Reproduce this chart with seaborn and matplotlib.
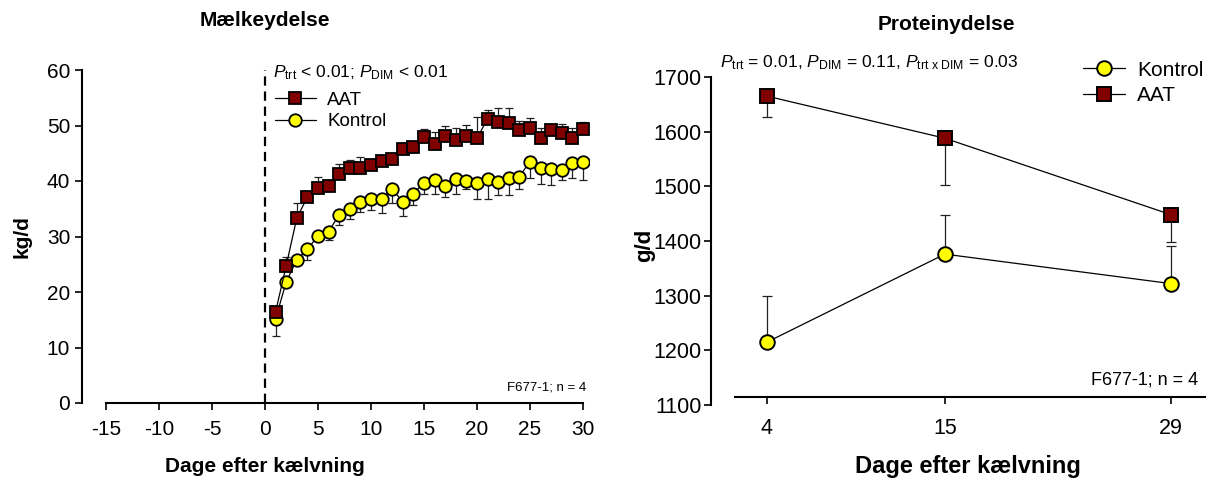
import numpy as np
import pandas as pd
import matplotlib
matplotlib.use("Agg")
import matplotlib.pyplot as plt
import seaborn as sns

# ---------------- data ----------------
days_left = list(range(1, 31))
aat_milk = [16.4, 24.7, 33.3, 37.1, 38.8, 39.1, 41.2, 42.4, 42.3, 42.8,
            43.6, 44.0, 45.7, 46.2, 48.0, 46.7, 48.1, 47.3, 48.1, 47.7,
            51.2, 50.7, 50.4, 49.2, 49.5, 47.7, 49.2, 48.6, 47.7, 49.3]
aat_milk_err = [0.5, 1.6, 2.7, 0.5, 1.9, 0.3, 1.8, 1.4, 2.0, 0.4,
                0.4, 0.4, 0.4, 0.4, 1.3, 2.1, 1.8, 2.2, 2.0, 3.9,
                1.6, 2.5, 2.8, 1.6, 1.9, 1.9, 0.9, 1.6, 1.8, 1.4]
kontrol_milk = [15.1, 21.8, 25.8, 27.7, 30.1, 30.9, 33.9, 34.9, 36.3, 36.8,
                36.8, 38.6, 36.2, 37.7, 39.7, 40.1, 39.1, 40.4, 40.0, 39.7,
                40.3, 39.8, 40.5, 40.8, 43.5, 42.3, 42.2, 42.0, 43.3, 43.4]
kontrol_milk_err = [3.0, 0.8, 0.8, 1.9, 1.0, 1.5, 1.9, 1.8, 1.8, 2.0,
                    2.6, 2.5, 2.5, 2.0, 2.0, 2.5, 2.0, 2.8, 1.5, 3.0,
                    3.5, 2.4, 3.1, 2.3, 2.9, 2.9, 2.9, 1.8, 2.8, 3.3]

days_right = [4, 15, 29]
aat_prot = [1665, 1588, 1448]
aat_prot_err = [38, 86, 50]
kontrol_prot = [1215, 1376, 1322]
kontrol_prot_err = [84, 71, 69]

left_xticks = [-15, -10, -5, 0, 5, 10, 15, 20, 25, 30]
left_yticks = [0, 10, 20, 30, 40, 50, 60]
right_yticks = [1100, 1200, 1300, 1400, 1500, 1600, 1700]

AAT_COLOR = "#800000"
KON_COLOR = "#FFFF00"

# ---------------- style ----------------
sns.set_style("ticks")
plt.rcParams["font.family"] = ["Liberation Sans", "DejaVu Sans"]
plt.rcParams["text.color"] = "black"
plt.rcParams["axes.labelcolor"] = "black"
plt.rcParams["mathtext.fontset"] = "custom"
plt.rcParams["mathtext.rm"] = "Liberation Sans"
plt.rcParams["mathtext.it"] = "Liberation Sans:italic"
plt.rcParams["mathtext.bf"] = "Liberation Sans:bold"

W, H = 1206, 479
fig = plt.figure(figsize=(W / 100, H / 100), dpi=100)


def P(x, y):
    return x / W, 1 - y / H


ax1 = fig.add_axes([82 / W, 1 - 403 / H, 507 / W, 333 / H])
ax2 = fig.add_axes([711 / W, 1 - 405 / H, 495 / W, 328 / H])

# ---------------- left panel ----------------
dfl = pd.DataFrame({"dag": days_left, "AAT": aat_milk, "Kontrol": kontrol_milk})

ax1.axvline(0, color="black", lw=1.6, ls=(0, (4.2, 2.6)), zorder=1)

ax1.errorbar(days_left, aat_milk, yerr=[np.zeros(30), aat_milk_err], fmt="none",
             ecolor="#222222", elinewidth=0.9, capsize=3, capthick=0.9, zorder=2)
ax1.errorbar(days_left, kontrol_milk, yerr=[kontrol_milk_err, np.zeros(30)], fmt="none",
             ecolor="#222222", elinewidth=0.9, capsize=3, capthick=0.9, zorder=2)

sns.lineplot(data=dfl, x="dag", y="AAT", ax=ax1, color="black", lw=0.9,
             marker="s", markersize=8.5, markerfacecolor=AAT_COLOR,
             markeredgecolor="black", markeredgewidth=1.3, label="AAT", zorder=4)
sns.lineplot(data=dfl, x="dag", y="Kontrol", ax=ax1, color="black", lw=0.9,
             marker="o", markersize=9, markerfacecolor=KON_COLOR,
             markeredgecolor="black", markeredgewidth=1.3, label="Kontrol", zorder=3)

ax1.set_xlim(-17.26, 30.57)
ax1.set_ylim(0, 60)
ax1.set_xticks(left_xticks)
ax1.set_xticklabels([str(t) for t in left_xticks])
ax1.set_yticks(left_yticks)
ax1.tick_params(axis="both", labelsize=15, direction="out", length=5, width=1.2,
                colors="black")
ax1.tick_params(axis="x", pad=7)
ax1.spines["top"].set_visible(False)
ax1.spines["right"].set_visible(False)
ax1.spines["bottom"].set_bounds(-15, 30)
for s in ("left", "bottom"):
    ax1.spines[s].set_linewidth(1.5)
    ax1.spines[s].set_color("black")
ax1.set_xlabel("")
ax1.set_ylabel("")
ax1.legend(loc="upper left", bbox_to_anchor=(0.365, 0.958), frameon=False,
           fontsize=13.5, handlelength=2.2, handletextpad=0.6, labelspacing=0.25,
           borderaxespad=0)

ax1.text(0.995, 0.028, "F677-1; n = 4", transform=ax1.transAxes, ha="right",
         va="bottom", fontsize=9.5)

# ---------------- right panel ----------------
dfr = pd.DataFrame({"dag": days_right, "AAT": aat_prot, "Kontrol": kontrol_prot})

ax2.errorbar(days_right, aat_prot, yerr=[aat_prot_err, [0, 0, 0]], fmt="none",
             ecolor="#222222", elinewidth=0.9, capsize=3.5, capthick=0.9, zorder=2)
ax2.errorbar(days_right, kontrol_prot, yerr=[[0, 0, 0], kontrol_prot_err], fmt="none",
             ecolor="#222222", elinewidth=0.9, capsize=3.5, capthick=0.9, zorder=2)

sns.lineplot(data=dfr, x="dag", y="Kontrol", ax=ax2, color="black", lw=0.9,
             marker="o", markersize=10.5, markerfacecolor=KON_COLOR,
             markeredgecolor="black", markeredgewidth=1.4, label="Kontrol", zorder=3)
sns.lineplot(data=dfr, x="dag", y="AAT", ax=ax2, color="black", lw=0.9,
             marker="s", markersize=10, markerfacecolor=AAT_COLOR,
             markeredgecolor="black", markeredgewidth=1.4, label="AAT", zorder=4)

ax2.set_xlim(0.54, 31.15)
ax2.set_ylim(1100, 1700)
ax2.set_xticks(days_right)
ax2.set_yticks(right_yticks)
ax2.tick_params(axis="both", labelsize=15.5, direction="out", length=5, width=1.2,
                colors="black")
ax2.tick_params(axis="y", pad=2)
ax2.tick_params(axis="x", pad=10)
ax2.spines["top"].set_visible(False)
ax2.spines["right"].set_visible(False)
ax2.spines["bottom"].set_position(("data", 1115))
ax2.spines["bottom"].set_bounds(2.0, 31.15)
for s in ("left", "bottom"):
    ax2.spines[s].set_linewidth(1.5)
    ax2.spines[s].set_color("black")
ax2.set_xlabel("")
ax2.set_ylabel("")
ax2.legend(loc="upper left", bbox_to_anchor=(0.735, 1.075), frameon=False,
           fontsize=15, handlelength=2.0, handletextpad=0.6, labelspacing=0.32,
           borderaxespad=0)

ax2.text(0.985, 0.05, "F677-1; n = 4", transform=ax2.transAxes, ha="right",
         va="bottom", fontsize=13)

# ---------------- figure texts ----------------
fig.text(*P(265, 20), "Mælkeydelse", ha="center", va="center", fontsize=15,
         fontweight="bold")
fig.text(*P(946, 25), "Proteinydelse", ha="center", va="center", fontsize=15,
         fontweight="bold")
fig.text(*P(265, 466), "Dage efter kælvning", ha="center", va="center",
         fontsize=15, fontweight="bold")
fig.text(*P(968, 466), "Dage efter kælvning", ha="center", va="center",
         fontsize=17, fontweight="bold")
fig.text(*P(22, 237), "kg/d", ha="center", va="center", fontsize=15,
         fontweight="bold", rotation=90)
fig.text(*P(645, 245), "g/d", ha="center", va="center", fontsize=16,
         fontweight="bold", rotation=90)

fig.text(*P(273, 73),
         r"$\mathit{P}_{\mathrm{trt}}$ < 0.01; $\mathit{P}_{\mathrm{DIM}}$ < 0.01",
         ha="left", va="center", fontsize=12.5)
fig.text(*P(720, 63),
         r"$\mathit{P}_{\mathrm{trt}}$ = 0.01, $\mathit{P}_{\mathrm{DIM}}$ = 0.11, "
         r"$\mathit{P}_{\mathrm{trt\ x\ DIM}}$ = 0.03",
         ha="left", va="center", fontsize=12.6)

fig.savefig("out.png", dpi=100)
